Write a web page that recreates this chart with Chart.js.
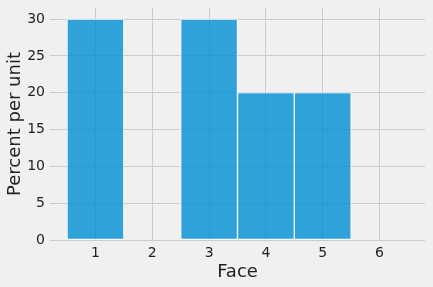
<!DOCTYPE html>
<html>
<head>
<meta charset="utf-8">
<script src="https://cdn.jsdelivr.net/npm/chart.js@4/dist/chart.umd.min.js"></script>
<style>
  html, body { margin: 0; padding: 0; background: #f0f0f0; }
  #wrap { width: 433px; height: 287px; }
</style>
</head>
<body>
<div id="wrap"><canvas id="chart" width="433" height="287"></canvas></div>
<script>
// histogram bins (centres) and percent per unit
const faces = [1, 2, 3, 4, 5, 6];
const percents = [30, 0, 30, 20, 20, 0];
const xTicks = [1, 2, 3, 4, 5, 6];
const yTicks = [0, 5, 10, 15, 20, 25, 30];

const font = { family: 'DejaVu Sans', size: 14 };
const titleFont = { family: 'DejaVu Sans', size: 18 };

const ctx = document.getElementById('chart').getContext('2d');
new Chart(ctx, {
  type: 'bar',
  data: {
    datasets: [{
      data: faces.map((f, i) => ({ x: f, y: percents[i] })),
      backgroundColor: c => (c.raw && c.raw.y ? 'rgba(0,143,213,0.8)' : 'rgba(0,0,0,0)'),
      borderColor: c => (c.raw && c.raw.y ? 'rgba(255,255,255,0.8)' : 'rgba(0,0,0,0)'),
      borderWidth: 1,
      borderSkipped: false,
      barPercentage: 1,
      categoryPercentage: 1
    }]
  },
  options: {
    responsive: false,
    animation: false,
    layout: { padding: { top: 8, right: 8, left: 4, bottom: 0 } },
    plugins: { legend: { display: false }, tooltip: { enabled: false } },
    scales: {
      x: {
        type: 'linear',
        min: 0.2,
        max: 6.8,
        offset: false,
        grid: { color: '#cbcbcb', lineWidth: 1, offset: false, drawTicks: false },
        border: { display: false },
        ticks: { font, color: '#222', padding: 5, maxRotation: 0 },
        afterBuildTicks: s => { s.ticks = xTicks.map(v => ({ value: v })); },
        afterFit: s => { s.height = 47; s.paddingLeft = 0; s.paddingRight = 0; },
        title: { display: true, text: 'Face', font: titleFont, color: '#222', padding: { top: 0, bottom: 4 } }
      },
      y: {
        min: 0,
        max: 31.5,
        grid: { color: '#cbcbcb', lineWidth: 1, drawTicks: false },
        border: { display: false },
        ticks: { font, color: '#222', padding: 5 },
        afterBuildTicks: s => { s.ticks = yTicks.map(v => ({ value: v })); },
        afterFit: s => { s.width = 46; s.paddingTop = 0; s.paddingBottom = 0; },
        title: { display: true, text: 'Percent per unit', font: titleFont, color: '#222', padding: { top: 1, bottom: 0 } }
      }
    }
  },
  plugins: [{
    id: 'bg',
    beforeDraw: c => {
      const g = c.ctx;
      g.save();
      g.fillStyle = '#f0f0f0';
      g.fillRect(0, 0, c.width, c.height);
      g.restore();
    }
  }]
});
</script>
</body>
</html>
